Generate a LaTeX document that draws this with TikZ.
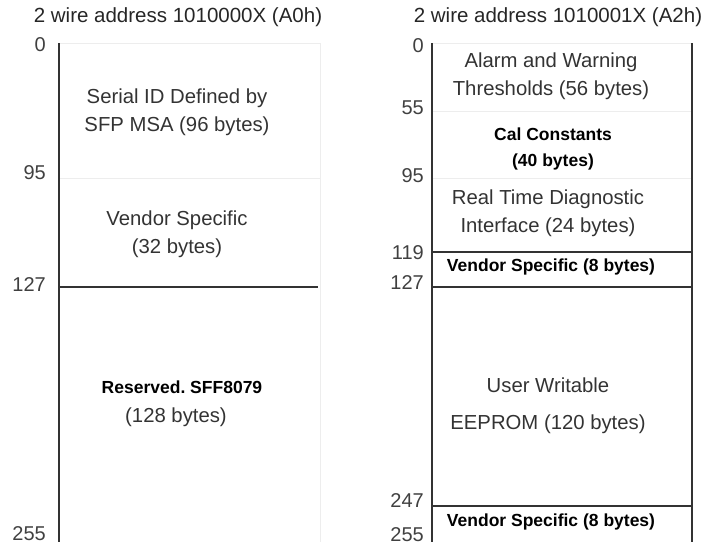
\documentclass[tikz,border=0pt]{standalone}
\usepackage{fontspec}
\setmainfont{Liberation Sans}
\usetikzlibrary{positioning,calc}
\tikzset{
  hdr/.style={font=\fontsize{20.5}{24}\selectfont,text=black!85,inner sep=0pt},
  txt/.style={font=\fontsize{20.3}{28}\selectfont,align=center,text=black!80,inner sep=0pt},
  btxt/.style={font=\fontsize{17.5}{26}\selectfont\bfseries,align=center,inner sep=0pt},
  addr/.style={font=\fontsize{20}{22}\selectfont,text=black!75,anchor=east,inner sep=0pt},
  edge/.style={line width=1.6pt,draw=black!80},
  faint/.style={line width=0.8pt,draw=black!7},
}
\begin{document}
\begin{tikzpicture}[x=1pt,y=-1pt]
\useasboundingbox (0,0) rectangle (702,547);
% titles
\node[hdr] (tA0) at (178,17) {2 wire address 1010000X (A0h)};
\node[hdr] (tA2) at (558,17) {2 wire address 1010001X (A2h)};
% A0h map
\coordinate (a0tl) at (59,43);
\coordinate (a0tr) at (320,43);
\coordinate (a0bl) at (59,542);
\coordinate (a0br) at (320,542);
\draw[faint] (a0tl) -- (a0tr) -- (a0br);
\draw[faint] (59,178) -- (320,178);
\draw[edge] (59,287) -- (318,287);
\draw[edge] (a0tl) -- (a0bl);
% A2h map
\coordinate (a2tl) at (432,43);
\coordinate (a2tr) at (692,43);
\coordinate (a2bl) at (432,542);
\coordinate (a2br) at (692,542);
\foreach \y in {43,111,178} \draw[faint] (432,\y) -- (692,\y);
\foreach \y in {252,287,506} \draw[edge] (432,\y) -- (692,\y);
\draw[edge] (a2tl) -- (a2bl);
\draw[edge] (a2tr) -- (a2br);
% address labels
\foreach \n/\y in {0/45,95/173,127/285,255/534}
  \node[addr] (l0-\n) at (46,\y) {\n};
\foreach \n/\y in {0/46,55/108,95/176,119/253,127/283,247/501,255/535}
  \node[addr] (l2-\n) at (424,\y) {\n};
% A0h contents
\node[txt] (serial) at (177,112) {Serial ID Defined by\\SFP MSA (96 bytes)};
\node[txt] (vend0) at (177,234) {Vendor Specific\\(32 bytes)};
\node[btxt] (resv) at (182,387) {Reserved.\ SFF8079};
\node[txt] (resvb) at (176,417) {(128 bytes)};
% A2h contents
\node[txt] (alarm) at (551,76) {Alarm and Warning\\Thresholds (56 bytes)};
\node[btxt] (cal) at (553,149) {Cal Constants\\(40 bytes)};
\node[txt] (rtd) at (548,213) {Real Time Diagnostic\\Interface (24 bytes)};
\node[btxt] (vend1) at (551,267) {Vendor Specific (8 bytes)};
\node[txt] (user) at (548,406) {User Writable\\[9pt]EEPROM (120 bytes)};
\node[btxt] (vend2) at (551,522) {Vendor Specific (8 bytes)};
\end{tikzpicture}
\end{document}
